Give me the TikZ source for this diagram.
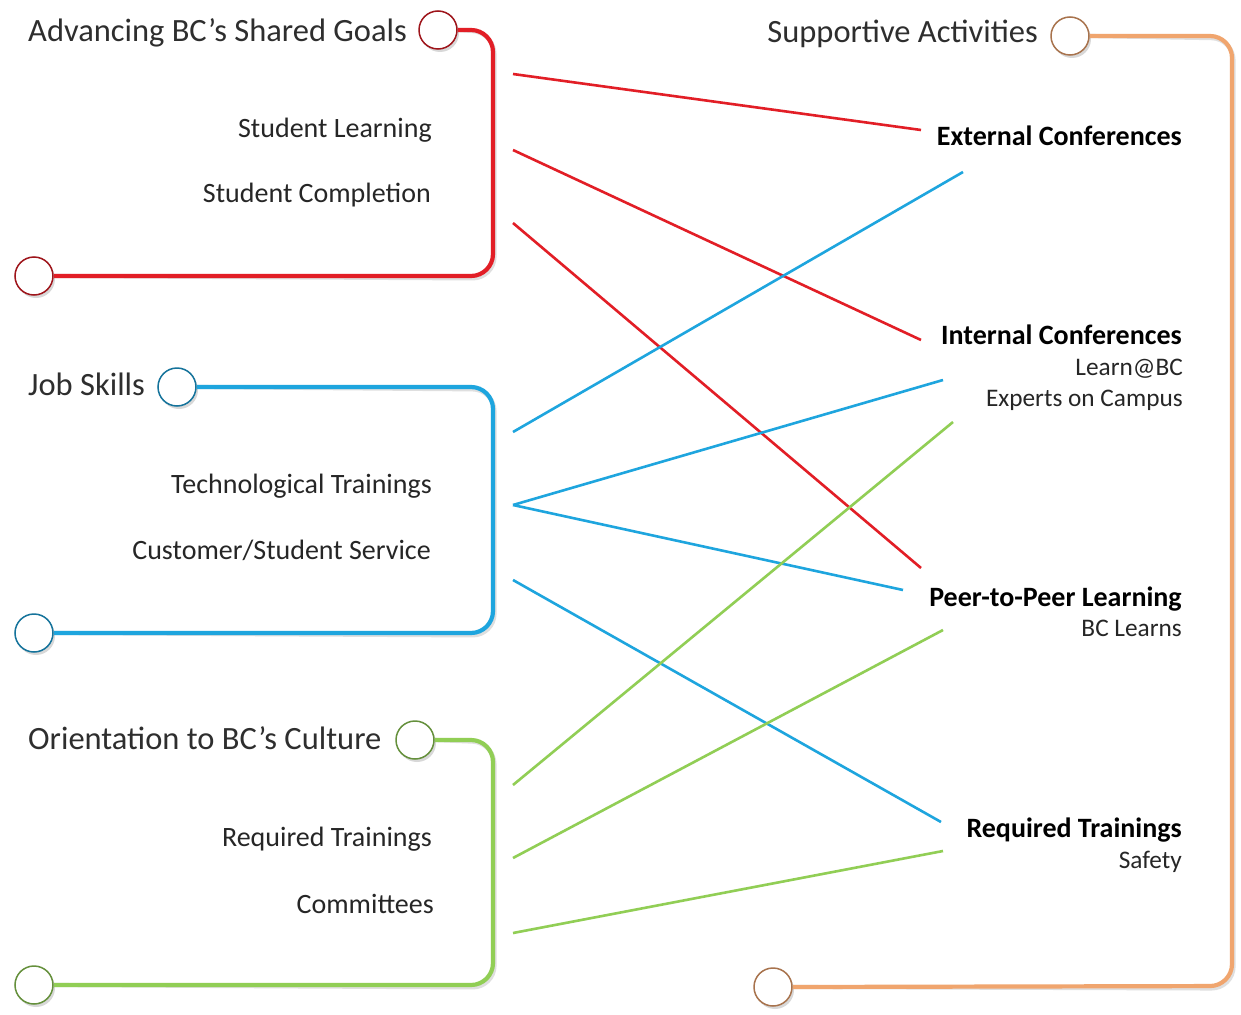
\documentclass[tikz,border=0pt]{standalone}
\usepackage{fontspec}
\setmainfont{Carlito}
\usetikzlibrary{shadows}
\definecolor{cred}{RGB}{226,30,38}
\definecolor{cblue}{RGB}{30,165,222}
\definecolor{cgreen}{RGB}{145,206,85}
\definecolor{corange}{RGB}{240,165,110}
\tikzset{
  x=1pt,y=-1pt,
  ring/.style={circle,minimum size=38pt,inner sep=0pt,fill=white,line width=1.5pt,
    drop shadow={shadow xshift=2pt,shadow yshift=-3pt,opacity=0.3,fill=gray}},
  frame/.style={line width=4.2pt,rounded corners=22pt},
  frameshadow/.style={line width=4.2pt,rounded corners=22pt,draw=gray,opacity=0.25,shift={(1.5,2.5)}},
  link/.style={line width=2.6pt},
  title/.style={inner sep=0pt,font=\fontsize{32.5}{38}\selectfont,text=black!82},
  sub/.style={inner sep=0pt,anchor=base east,font=\fontsize{28}{32}\selectfont,text=black!85},
  act/.style={inner sep=0pt,anchor=base east,font=\bfseries\fontsize{28}{32}\selectfont,text=black},
  actsub/.style={inner sep=0pt,anchor=base east,font=\fontsize{25.3}{30}\selectfont,text=black!85},
}
\begin{document}
\begin{tikzpicture}
\useasboundingbox (0,0) rectangle (1241,1014);
\fill[white] (0,0) rectangle (1241,1014);

% ---- titles
\node[title,anchor=base west] (tg) at (28,42) {Advancing BC’s Shared Goals};
\node[title,anchor=base west] (tj) at (28,395) {Job Skills};
\node[title,anchor=base west] (to) at (28,749) {Orientation to BC’s Culture};
\node[title,anchor=base east] (ts) at (1038,43) {Supportive Activities};

% ---- circles
\node[ring,draw=cred!70!black] (g1) at (438,30) {};
\node[ring,draw=cred!70!black] (g2) at (34,276) {};
\node[ring,draw=cblue!70!black] (j1) at (177,387) {};
\node[ring,draw=cblue!70!black] (j2) at (34,633) {};
\node[ring,draw=cgreen!70!black] (o1) at (415,740) {};
\node[ring,draw=cgreen!70!black] (o2) at (34,985) {};
\node[ring,draw=corange!70!black] (s1) at (1070,36) {};
\node[ring,draw=corange!70!black] (s2) at (773,987) {};

% ---- frames
\draw[frameshadow] (g1.east) -- (493,30) -- (493,276) -- (g2.east);
\draw[frameshadow] (j1.east) -- (493,387) -- (493,633) -- (j2.east);
\draw[frameshadow] (o1.east) -- (493,740) -- (493,985) -- (o2.east);
\draw[frameshadow] (s1.east) -- (1232,36) -- (1232,986) -- (s2.east);
\draw[frame,cred] (g1.east) -- (493,30) -- (493,276) -- (g2.east);
\draw[frame,cblue] (j1.east) -- (493,387) -- (493,633) -- (j2.east);
\draw[frame,cgreen] (o1.east) -- (493,740) -- (493,985) -- (o2.east);
\draw[frame,corange] (s1.east) -- (1232,36) -- (1232,986) -- (s2.east);

% ---- left items
\node[sub] (sl) at (432,137) {Student Learning};
\node[sub] (sc) at (431,202) {Student Completion};
\node[sub] (tt) at (432,493) {Technological Trainings};
\node[sub] (cs) at (431,559) {Customer/Student Service};
\node[sub] (rt) at (432,846) {Required Trainings};
\node[sub] (cm) at (434,913) {Committees};

% ---- right items
\node[act] (ec) at (1182,145) {External Conferences};
\node[act] (ic) at (1182,344) {Internal Conferences};
\node[actsub] (lb) at (1183,375) {Learn@BC};
\node[actsub] (ep) at (1183,406) {Experts on Campus};
\node[act] (pp) at (1182,606) {Peer-to-Peer Learning};
\node[actsub] (bl) at (1182,636) {BC Learns};
\node[act] (rq) at (1182,837) {Required Trainings};
\node[actsub] (sf) at (1182,868) {Safety};

% ---- connector end points
\coordinate (gA) at (513,74);
\coordinate (gB) at (513,150);
\coordinate (gC) at (513,223);
\coordinate (jA) at (513,432);
\coordinate (jB) at (513,505);
\coordinate (jC) at (513,580);
\coordinate (oA) at (513,785);
\coordinate (oB) at (513,858);
\coordinate (oC) at (513,933);
\coordinate (ecR) at (921,130);
\coordinate (ecB) at (963,172);
\coordinate (icR) at (921,340);
\coordinate (icB) at (943,380);
\coordinate (icG) at (953,422);
\coordinate (ppR) at (921,568);
\coordinate (ppB) at (903,590);
\coordinate (ppG) at (943,630);
\coordinate (rqB) at (941,822);
\coordinate (rqG) at (943,851);

% ---- connectors
\draw[link,cred] (gA) -- (ecR);
\draw[link,cred] (gB) -- (icR);
\draw[link,cred] (gC) -- (ppR);
\draw[link,cblue] (jA) -- (ecB);
\draw[link,cblue] (jB) -- (icB);
\draw[link,cblue] (jB) -- (ppB);
\draw[link,cblue] (jC) -- (rqB);
\draw[link,cgreen] (oA) -- (icG);
\draw[link,cgreen] (oB) -- (ppG);
\draw[link,cgreen] (oC) -- (rqG);
\end{tikzpicture}
\end{document}
